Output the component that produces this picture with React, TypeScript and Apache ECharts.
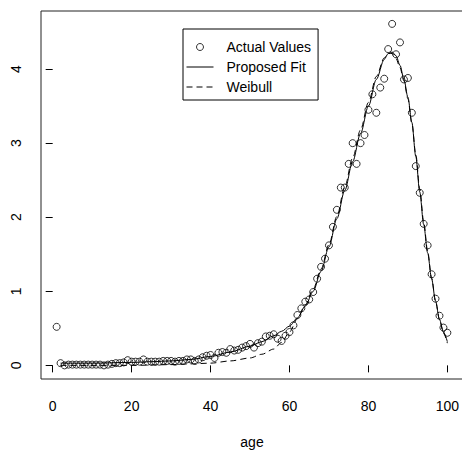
import React, { useEffect, useRef } from "react";
import * as echarts from "echarts";

// Actual values for ages 1..100
const actualValues = [
  0.52, 0.03, 0.0, 0.01, 0.01, 0.01, 0.01, 0.01, 0.01, 0.01,
  0.01, 0.01, 0.0, 0.01, 0.02, 0.03, 0.03, 0.04, 0.07, 0.05,
  0.05, 0.05, 0.08, 0.05, 0.05, 0.05, 0.05, 0.06, 0.06, 0.06,
  0.05, 0.06, 0.06, 0.08, 0.08, 0.06, 0.08, 0.11, 0.13, 0.14,
  0.1, 0.17, 0.18, 0.17, 0.22, 0.2, 0.21, 0.24, 0.26, 0.29,
  0.24, 0.3, 0.32, 0.39, 0.4, 0.42, 0.36, 0.33, 0.4, 0.45,
  0.54, 0.68, 0.77, 0.86, 0.89, 0.99, 1.17, 1.33, 1.44, 1.62,
  1.87, 2.1, 2.4, 2.4, 2.72, 3.0, 2.72, 3.0, 3.11, 3.45,
  3.66, 3.41, 3.75, 3.87, 4.27, 4.61, 4.2, 4.36, 3.86, 3.88,
  3.41, 2.69, 2.33, 1.91, 1.62, 1.23, 0.9, 0.67, 0.51, 0.44,
];

const fitAges = [2, 10, 20, 25, 30, 35, 40, 45, 50, 53, 56, 58, 60, 62, 64, 66, 68, 70, 72, 74, 76, 78, 80, 82, 84, 85, 86, 87, 88, 89, 90, 91, 92, 93, 94, 95, 96, 97, 98, 99, 100];
const fitValues = [0.03, 0.03, 0.04, 0.05, 0.06, 0.08, 0.12, 0.18, 0.26, 0.32, 0.4, 0.46, 0.53, 0.64, 0.8, 1.0, 1.27, 1.6, 1.98, 2.36, 2.75, 3.13, 3.5, 3.86, 4.13, 4.21, 4.23, 4.18, 4.05, 3.86, 3.62, 3.28, 2.82, 2.34, 1.9, 1.52, 1.17, 0.87, 0.62, 0.45, 0.32];

const weibullAges = [2, 20, 30, 35, 40, 45, 50, 53, 56, 58, 60, 62, 64, 66, 68, 70, 72, 74, 76, 78, 80, 82, 84, 85, 86, 87, 88, 89, 90, 91, 92, 93, 94, 95, 96, 97, 98, 99, 100];
const weibullValues = [0.0, 0.0, 0.01, 0.02, 0.03, 0.06, 0.1, 0.15, 0.22, 0.31, 0.45, 0.63, 0.82, 1.03, 1.3, 1.63, 2.01, 2.41, 2.8, 3.18, 3.55, 3.9, 4.15, 4.21, 4.21, 4.14, 4.02, 3.84, 3.6, 3.27, 2.85, 2.38, 1.94, 1.54, 1.18, 0.87, 0.62, 0.44, 0.3];

const xTicks = [0, 20, 40, 60, 80, 100];
const yTicks = [0, 1, 2, 3, 4];

const FONT = "Liberation Sans, Arial, Helvetica, sans-serif";

export default function App() {
  const ref = useRef<HTMLDivElement>(null);
  useEffect(() => {
    if (!ref.current) return;
    const chart = echarts.init(ref.current, null, { renderer: "svg" });
    const option: any = {
      animation: false,
      backgroundColor: "#fff",
      textStyle: { fontFamily: FONT },
      grid: {
        left: 41,
        top: 11,
        right: -1,
        bottom: 72,
        show: true,
        borderColor: "#222",
        borderWidth: 1,
        containLabel: false,
        outerBoundsMode: "none",
      },
      legend: {
        left: 183,
        top: 29,
        orient: "vertical",
        backgroundColor: "#fff",
        borderColor: "#000",
        borderWidth: 1,
        borderRadius: 0,
        padding: [11, 7, 6, 3],
        itemWidth: 27,
        itemHeight: 7,
        itemGap: 6,
        itemStyle: { borderWidth: 1 },
        lineStyle: { width: 1, color: "#000" },
        textStyle: { fontSize: 14, color: "#000", fontFamily: FONT, padding: [0, 0, 0, 8] },
        data: [
          { name: "Actual Values" },
          { name: "Proposed Fit", itemStyle: { opacity: 0 } },
          { name: "Weibull", itemStyle: { opacity: 0 } },
        ],
      },
      xAxis: {
        type: "value",
        min: -2.96,
        max: 103.96,
        name: "age",
        nameLocation: "middle",
        nameGap: 56,
        nameTextStyle: { fontSize: 14, color: "#000", fontFamily: FONT },
        splitLine: { show: false },
        axisLine: { show: false },
        axisTick: { show: true, customValues: xTicks, length: 7, lineStyle: { color: "#000" } },
        axisLabel: { customValues: xTicks, fontSize: 14, color: "#000", margin: 20, fontFamily: FONT },
      },
      yAxis: {
        type: "value",
        min: -0.184,
        max: 4.784,
        splitLine: { show: false },
        axisLine: { show: false },
        axisTick: { show: true, customValues: yTicks, length: 7, lineStyle: { color: "#000" } },
        axisLabel: { customValues: yTicks, fontSize: 14, color: "#000", margin: 18, rotate: 90, fontFamily: FONT },
      },
      series: [
        {
          name: "Actual Values",
          type: "scatter",
          symbol: "circle",
          symbolSize: 7,
          itemStyle: { color: "rgba(255,255,255,0)", borderColor: "#000", borderWidth: 1 },
          data: actualValues.map((v, i) => [i + 1, v]),
          z: 3,
        },
        {
          name: "Proposed Fit",
          type: "line",
          showSymbol: false,
          symbol: "none",
          smooth: 0.3,
          smoothMonotone: "x",
          lineStyle: { color: "#000", width: 1, type: "solid" },
          itemStyle: { color: "#000" },
          data: fitAges.map((a, i) => [a, fitValues[i]]),
          z: 2,
        },
        {
          name: "Weibull",
          type: "line",
          showSymbol: false,
          symbol: "none",
          smooth: 0.3,
          smoothMonotone: "x",
          lineStyle: { color: "#000", width: 1, type: [6, 4] },
          itemStyle: { color: "#000" },
          data: weibullAges.map((a, i) => [a, weibullValues[i]]),
          z: 2,
        },
      ],
    };
    chart.setOption(option);
    return () => chart.dispose();
  }, []);
  return (
    <div
      ref={ref}
      style={{ position: "fixed", left: 0, top: 0, width: 462, height: 451, background: "#fff" }}
    />
  );
}
